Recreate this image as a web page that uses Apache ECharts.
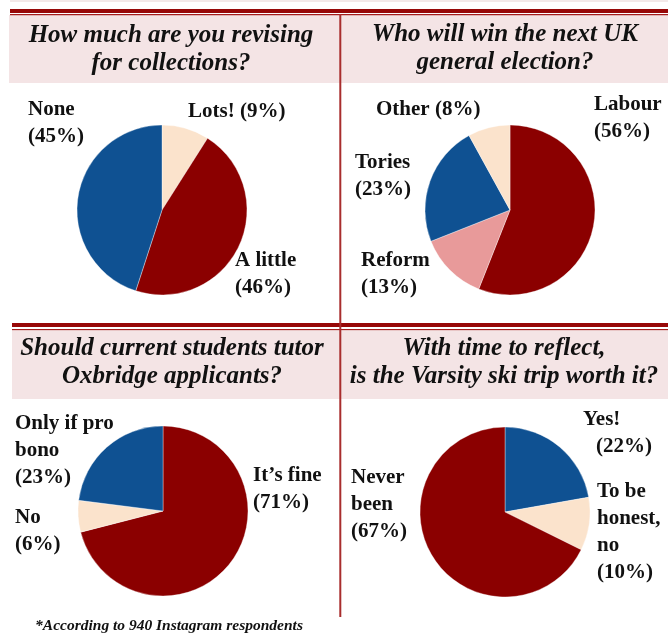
<!DOCTYPE html>
<html>
<head>
<meta charset="utf-8">
<script src="https://cdn.jsdelivr.net/npm/echarts@6/dist/echarts.min.js"></script>
<style>
  html, body { margin: 0; padding: 0; background: #ffffff; }
  #chart { width: 668px; height: 639px; }
</style>
</head>
<body>
<div id="chart"></div>
<script>
// Poll questions
const questionTitles = [
  'How much are you revising\nfor collections?',
  'Who will win the next UK\ngeneral election?',
  'Should current students tutor\nOxbridge applicants?',
  'With time to reflect,\nis the Varsity ski trip worth it?'
];

// Answers, listed clockwise from 12 o'clock
const revisingCategories = ['Lots!', 'A little', 'None'];
const revisingValues = [9, 46, 45];

const electionCategories = ['Labour', 'Reform', 'Tories', 'Other'];
const electionValues = [56, 13, 23, 8];

const tutorCategories = ['It\u2019s fine', 'No', 'Only if pro\nbono'];
const tutorValues = [71, 6, 23];

const skiCategories = ['Yes!', 'To be\nhonest,\nno', 'Never\nbeen'];
const skiValues = [22, 10, 67];

const footnote = '*According to 940 Instagram respondents';

// Colours
const RED = '#8b0000';
const BLUE = '#0f5192';
const PEACH = '#fbe3cc';
const ROSE = '#e89a9a';

const SERIF = '"Liberation Serif", "Times New Roman", serif';
const INK = '#111111';

// Answers whose percentage sits on the same line as the name
const inlineAnswers = ['Lots!', 'Other'];
// Answers whose percentage line is nudged to the right
const indentedAnswers = { 'Yes!': 13 };

function labelText(p) {
  const pct = '(' + p.value + '%)';
  if (inlineAnswers.indexOf(p.name) >= 0) return p.name + ' ' + pct;
  if (indentedAnswers[p.name]) return p.name + '\n{ind|' + pct + '}';
  return p.name + '\n' + pct;
}

function pieSeries(names, values, colors, center, spots) {
  return {
    type: 'pie',
    center: center,
    radius: 85,
    startAngle: 90,
    clockwise: true,
    silent: true,
    animation: false,
    avoidLabelOverlap: false,
    itemStyle: { borderColor: 'rgba(255,255,255,0.6)', borderWidth: 0.6 },
    data: names.map((n, i) => ({ name: n, value: values[i], itemStyle: { color: colors[i] } })),
    label: {
      show: true,
      position: 'outside',
      formatter: labelText,
      fontFamily: SERIF,
      fontWeight: 'bold',
      fontSize: 21,
      lineHeight: 27,
      color: INK,
      align: 'left',
      rich: {
        ind: {
          fontFamily: SERIF, fontWeight: 'bold', fontSize: 21, lineHeight: 27,
          color: INK, padding: [0, 0, 0, indentedAnswers['Yes!']]
        }
      }
    },
    labelLine: { show: false },
    labelLayout: p => ({
      x: spots[p.dataIndex][0],
      y: spots[p.dataIndex][1],
      align: 'left',
      verticalAlign: 'top'
    })
  };
}

const chart = echarts.init(document.getElementById('chart'), null, { renderer: 'canvas' });

const titleCenters = [[171, 22], [505, 21], [172, 335], [504, 335]];
const HEADER_BG = '#f4e4e5';
const RULE_DARK = '#970808';
const RULE_THIN = '#a51c1c';

chart.setOption({
  backgroundColor: '#ffffff',
  title: questionTitles.map((t, i) => ({
    text: t,
    left: titleCenters[i][0],
    top: titleCenters[i][1],
    textAlign: 'center',
    padding: 0,
    textStyle: {
      fontFamily: SERIF, fontStyle: 'italic', fontWeight: 'bold',
      fontSize: 25, lineHeight: 28, color: INK
    }
  })).concat([{
    text: footnote,
    left: 169,
    top: 617,
    textAlign: 'center',
    padding: 0,
    textStyle: {
      fontFamily: SERIF, fontStyle: 'italic', fontWeight: 'bold',
      fontSize: 15.5, lineHeight: 18, color: INK
    }
  }]),
  graphic: [
    { type: 'rect', z: 0, silent: true, shape: { x: 10, y: 0, width: 658, height: 2 }, style: { fill: '#f3e9e9' } },
    // top header band and rules
    { type: 'rect', z: 0, silent: true, shape: { x: 9, y: 15, width: 659, height: 68 }, style: { fill: HEADER_BG } },
    { type: 'rect', z: 1, silent: true, shape: { x: 10, y: 9, width: 658, height: 4 }, style: { fill: RULE_DARK } },
    { type: 'rect', z: 1, silent: true, shape: { x: 10, y: 14, width: 658, height: 1.3 }, style: { fill: RULE_THIN } },
    // middle header band and rules
    { type: 'rect', z: 0, silent: true, shape: { x: 12, y: 331, width: 656, height: 68 }, style: { fill: HEADER_BG } },
    { type: 'rect', z: 1, silent: true, shape: { x: 12, y: 323, width: 656, height: 4 }, style: { fill: RULE_DARK } },
    { type: 'rect', z: 1, silent: true, shape: { x: 12, y: 329, width: 656, height: 1.3 }, style: { fill: RULE_THIN } },
    // column divider
    { type: 'rect', z: 2, silent: true, shape: { x: 339.3, y: 14, width: 2, height: 603 }, style: { fill: '#a82d2d' } }
  ],
  series: [
    pieSeries(revisingCategories, revisingValues, [PEACH, RED, BLUE], [162, 210],
      [[188, 98], [235, 247], [28, 96]]),
    pieSeries(electionCategories, electionValues, [RED, ROSE, BLUE, PEACH], [510, 210],
      [[594, 91], [361, 247], [355, 149], [376, 96]]),
    pieSeries(tutorCategories, tutorValues, [RED, PEACH, BLUE], [163, 511],
      [[253, 462], [15, 504], [15, 410]]),
    pieSeries(skiCategories, skiValues, [BLUE, PEACH, RED], [505, 512],
      [[583, 406], [597, 478], [351, 464]])
  ]
});
</script>
</body>
</html>
